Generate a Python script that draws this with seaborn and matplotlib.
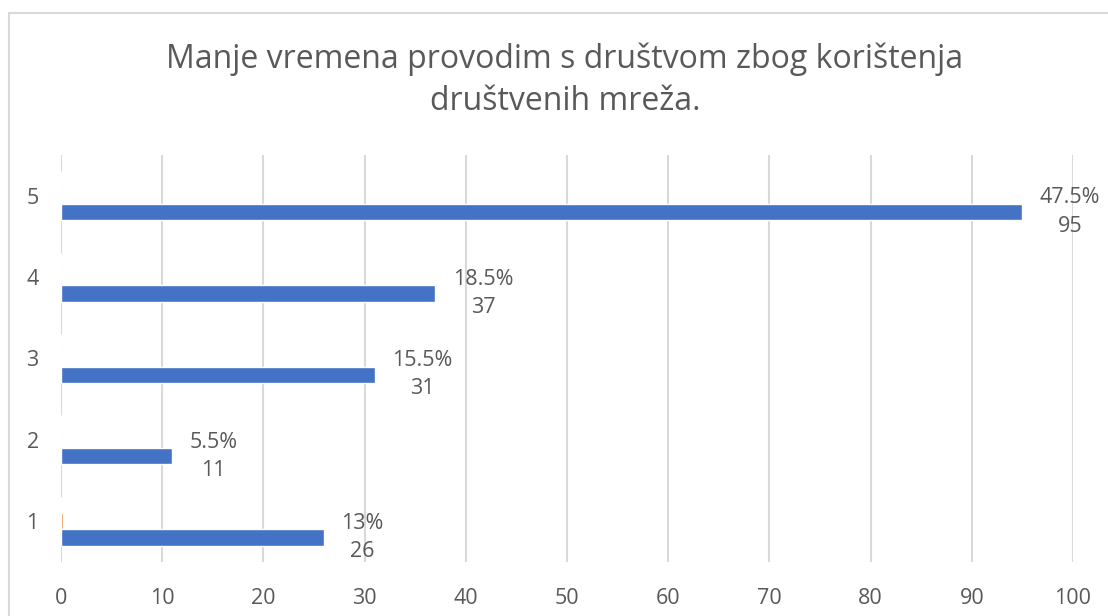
import seaborn as sns
import matplotlib.pyplot as plt
import matplotlib.patches as mpatches
import pandas as pd

# -----------------------------------------
# Data
# -----------------------------------------
categories = ["5", "4", "3", "2", "1"]
counts = [95, 37, 31, 11, 26]
percents = ["47.5%", "18.5%", "15.5%", "5.5%", "13%"]
extra_a = [0, 0, 0, 0, 0]          # empty series (invisible)
extra_b = [0, 0, 0, 0, 0.15]       # tiny orange sliver at "1"
x_ticks = [0, 10, 20, 30, 40, 50, 60, 70, 80, 90, 100]

series_order = ["A", "B", "Count"]
df = pd.concat([
    pd.DataFrame({"cat": categories, "value": extra_a, "series": "A"}),
    pd.DataFrame({"cat": categories, "value": extra_b, "series": "B"}),
    pd.DataFrame({"cat": categories, "value": counts, "series": "Count"}),
])

TEXT = "#595959"
GRID = "#D9D9D9"
FS = 15.5

sns.set_style("white")
plt.rcParams["font.family"] = ["Open Sans", "DejaVu Sans"]

fig = plt.figure(figsize=(11.08, 6.16), dpi=100)
ax = fig.add_axes([61 / 1108, 1 - 562 / 616, (1073 - 61) / 1108, (562 - 155) / 616])

sns.barplot(
    data=df, y="cat", x="value", hue="series",
    order=categories, hue_order=series_order,
    palette={"A": "#A5A5A5", "B": "#ED7D31", "Count": "#4472C4"},
    orient="h", width=0.6, dodge=True, saturation=1, legend=False, ax=ax,
)

ax.set_xlim(0, 100)
ax.set_ylim(4.5, -0.5)
ax.set_xticks(x_ticks)
ax.set_xlabel("")
ax.set_ylabel("")
ax.grid(axis="x", color=GRID, linewidth=1.5)
ax.set_axisbelow(True)
for s in ax.spines.values():
    s.set_visible(False)
ax.tick_params(axis="both", length=0, colors=TEXT, labelsize=FS)
ax.tick_params(axis="x", pad=19)
ax.tick_params(axis="y", pad=16)

# value labels next to the blue bars
blue = ax.containers[2]
for bar, pct, n in zip(blue.patches, percents, counts):
    yc = bar.get_y() + bar.get_height() / 2
    ax.text(bar.get_width() + 1.7, yc, f"{pct}\n{n}", ha="left", va="center",
            multialignment="center", color=TEXT, fontsize=FS, linespacing=1.45)

fig.text(565 / 1108, 1 - 80 / 616,
         "Manje vremena provodim s društvom zbog korištenja\ndruštvenih mreža.",
         ha="center", va="center", color=TEXT, fontsize=23, linespacing=1.38)

# chart frame (left and top edges visible)
fig.patches.append(mpatches.Rectangle((8.5 / 1108, -0.1), 1.2, 1 - 12.5 / 616 + 0.1,
                                      transform=fig.transFigure, fill=False,
                                      edgecolor="#D9D9D9", linewidth=1.5))

plt.savefig("out.png", dpi=100)
